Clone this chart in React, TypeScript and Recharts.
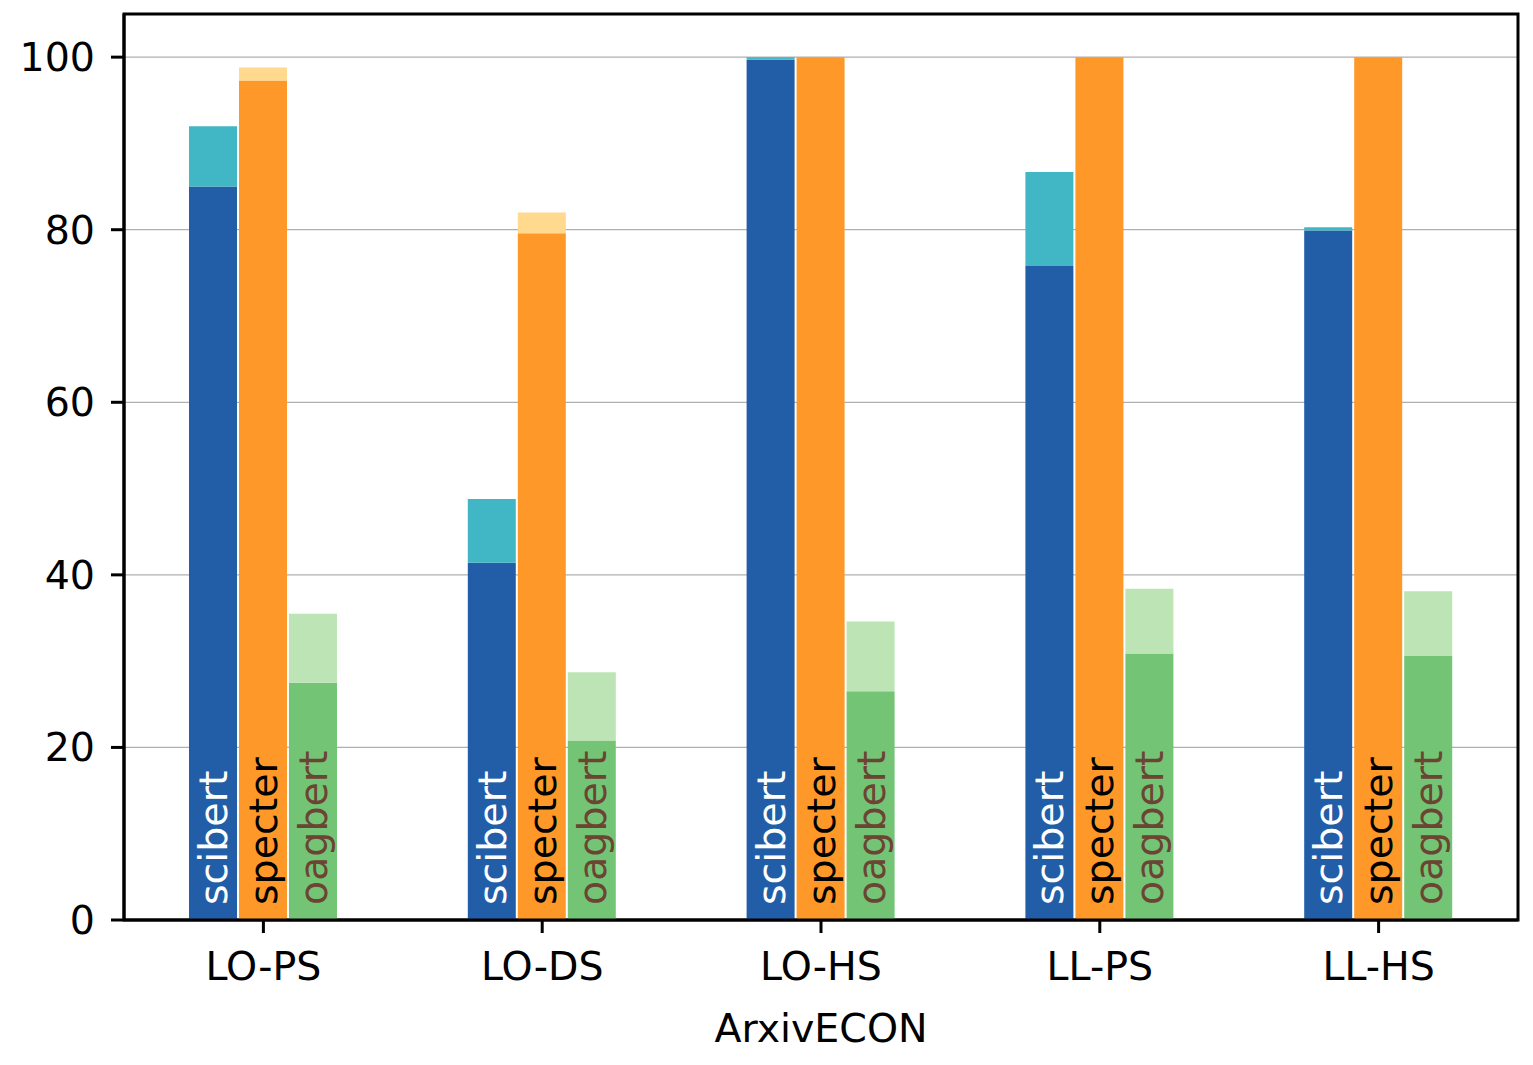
import React from "react";
import {
  BarChart,
  Bar,
  XAxis,
  YAxis,
  CartesianGrid,
  LabelList,
  ReferenceArea,
} from "recharts";

const categories = ["LO-PS", "LO-DS", "LO-HS", "LL-PS", "LL-HS"];
const scibertBase = [85.0, 41.4, 99.7, 75.8, 79.9];
const scibertTop = [92.0, 48.8, 100, 86.7, 80.3];
const specterBase = [97.3, 79.6, 100, 100, 100];
const specterTop = [98.8, 82.0, 100, 100, 100];
const oagbertBase = [27.5, 20.8, 26.5, 30.9, 30.6];
const oagbertTop = [35.5, 28.7, 34.6, 38.4, 38.1];
const yTicks = [0, 20, 40, 60, 80, 100];

const data = categories.map((name, i) => ({
  name,
  scibert: scibertBase[i],
  scibertExtra: scibertTop[i] - scibertBase[i],
  specter: specterBase[i],
  specterExtra: specterTop[i] - specterBase[i],
  oagbert: oagbertBase[i],
  oagbertExtra: oagbertTop[i] - oagbertBase[i],
}));

const FONT = "DejaVu Sans";

function barText(text: string, color: string) {
  return (props: any) => {
    const { x, y, width, height } = props;
    const cx = Number(x) + Number(width) / 2;
    const bottom = Number(y) + Number(height);
    return (
      <text
        transform={`translate(${cx + 14}, ${bottom - 15}) rotate(-90)`}
        textAnchor="start"
        fontFamily={FONT}
        fontSize={39.5}
        fill={color}
      >
        {text}
      </text>
    );
  };
}

function AxisTitle(props: any) {
  const { viewBox } = props;
  return (
    <text
      x={viewBox.x + viewBox.width / 2}
      y={viewBox.y + 122}
      textAnchor="middle"
      fontFamily={FONT}
      fontSize={39.5}
      fill="#000"
    >
      ArxivECON
    </text>
  );
}

export default function App() {
  const tickStyle = { fontFamily: FONT, fontSize: 39.5, fill: "#000" };
  return (
    <BarChart
      width={1520}
      height={1050}
      data={data}
      margin={{ top: 6, right: 10, left: 0, bottom: 0 }}
      barSize={48}
      barGap={2}
    >
      <CartesianGrid
        horizontal={true}
        vertical={false}
        stroke="#b0b0b0"
        strokeWidth={1.3}
      />
      <XAxis
        dataKey="name"
        height={138}
        tick={tickStyle}
        tickSize={13}
        tickMargin={19}
        axisLine={{ stroke: "#000", strokeWidth: 3 }}
        tickLine={{ stroke: "#000", strokeWidth: 3 }}
        label={<AxisTitle />}
      />
      <YAxis
        width={116}
        domain={[0, 105]}
        ticks={yTicks}
        interval={0}
        tick={tickStyle}
        tickSize={13}
        tickMargin={16}
        axisLine={{ stroke: "#000", strokeWidth: 3 }}
        tickLine={{ stroke: "#000", strokeWidth: 3 }}
      />
      <Bar dataKey="scibert" stackId="a" fill="#225ea8" isAnimationActive={false}>
        <LabelList dataKey="scibert" content={barText("scibert", "#ffffff")} />
      </Bar>
      <Bar dataKey="scibertExtra" stackId="a" fill="#41b6c4" isAnimationActive={false} />
      <Bar dataKey="specter" stackId="b" fill="#fe9929" isAnimationActive={false}>
        <LabelList dataKey="specter" content={barText("specter", "#000000")} />
      </Bar>
      <Bar dataKey="specterExtra" stackId="b" fill="#fed98e" isAnimationActive={false} />
      <Bar dataKey="oagbert" stackId="c" fill="#74c476" isAnimationActive={false}>
        <LabelList dataKey="oagbert" content={barText("oagbert", "#6b4433")} />
      </Bar>
      <Bar dataKey="oagbertExtra" stackId="c" fill="#bde4b4" isAnimationActive={false} />
      <ReferenceArea
        y1={0}
        y2={105}
        fill="none"
        stroke="#000"
        strokeWidth={3}
        ifOverflow="visible"
      />
    </BarChart>
  );
}
